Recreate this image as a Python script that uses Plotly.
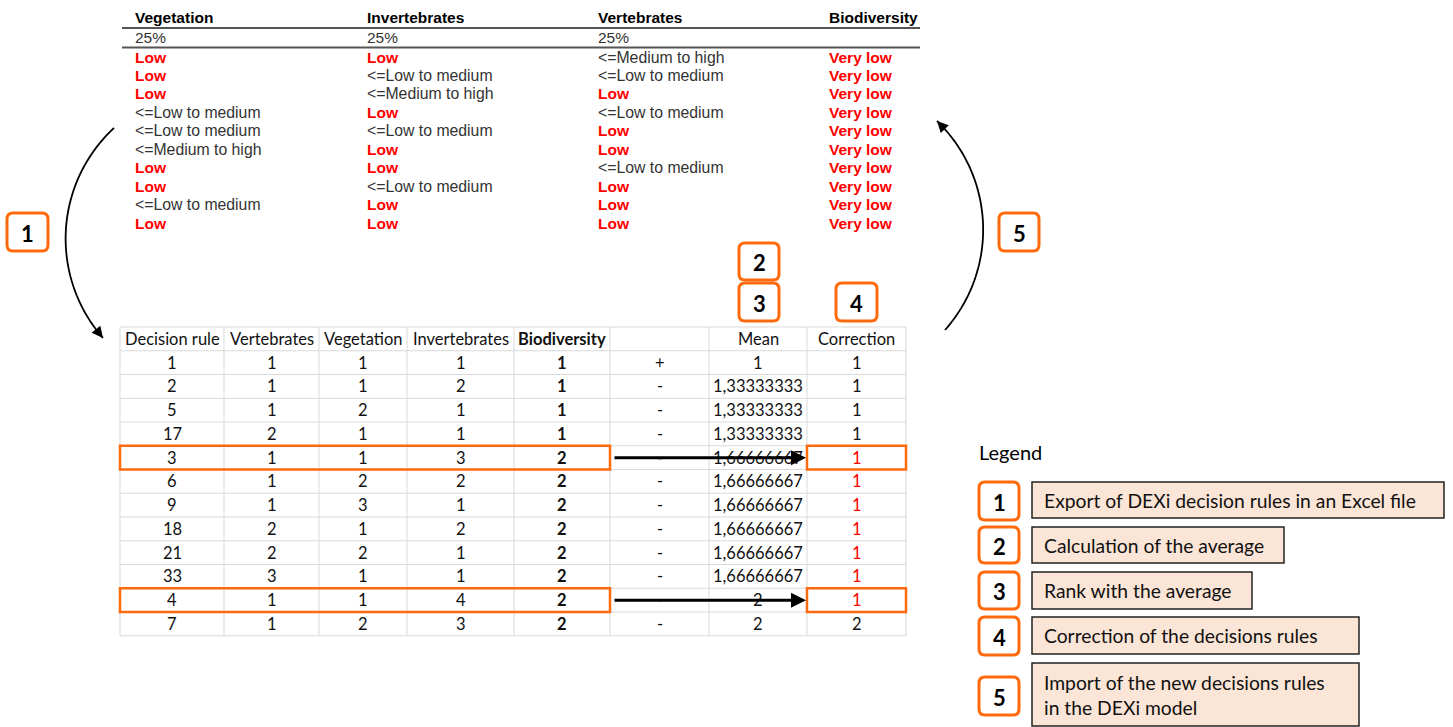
import math
import plotly.graph_objects as go

W, H = 1453, 727

# ---------------- data ----------------
top_headers = ["Vegetation", "Invertebrates", "Vertebrates", "Biodiversity"]
top_weights = ["25%", "25%", "25%", ""]
top_vegetation = ["Low", "Low", "Low", "<=Low to medium", "<=Low to medium",
                  "<=Medium to high", "Low", "Low", "<=Low to medium", "Low"]
top_invertebrates = ["Low", "<=Low to medium", "<=Medium to high", "Low", "<=Low to medium",
                     "Low", "Low", "<=Low to medium", "Low", "Low"]
top_vertebrates = ["<=Medium to high", "<=Low to medium", "Low", "<=Low to medium", "Low",
                   "Low", "<=Low to medium", "Low", "Low", "Low"]
top_biodiversity = ["Very low", "Very low", "Very low", "Very low", "Very low",
                    "Very low", "Very low", "Very low", "Very low", "Very low"]
top_red_values = ["Low", "Very low"]

bottom_headers = ["Decision rule", "Vertebrates", "Vegetation", "Invertebrates",
                  "Biodiversity", "", "Mean", "Correction"]
decision_rule = [1, 2, 5, 17, 3, 6, 9, 18, 21, 33, 4, 7]
vertebrates = [1, 1, 1, 2, 1, 1, 1, 2, 2, 3, 1, 1]
vegetation = [1, 1, 2, 1, 1, 2, 3, 1, 2, 1, 1, 2]
invertebrates = [1, 2, 1, 1, 3, 2, 1, 2, 1, 1, 4, 3]
biodiversity = [1, 1, 1, 1, 2, 2, 2, 2, 2, 2, 2, 2]
sign = ["+", "-", "-", "-", "-", "-", "-", "-", "-", "-", "-", "-"]
mean = ["1", "1,33333333", "1,33333333", "1,33333333", "1,66666667", "1,66666667",
        "1,66666667", "1,66666667", "1,66666667", "1,66666667", "2", "2"]
correction = [1, 1, 1, 1, 1, 1, 1, 1, 1, 1, 1, 2]
corrected = [False, False, False, False, True, True, True, True, True, True, True, False]
highlighted_rows = [4, 10]

steps = ["1", "2", "3", "4", "5"]
step_labels = ["Export of DEXi decision rules in an Excel file",
               "Calculation of the average",
               "Rank with the average",
               "Correction of the decisions rules",
               "Import of the new decisions rules<br>in the DEXi model"]
legend_title = "Legend"

# ---------------- style / layout ----------------
ORANGE = "#FF6A0D"
RED = "#FF0000"
GRID = "#D9D9D9"
F_TOP = "Liberation Sans, Arial, sans-serif"
F_XL = "Lato, 'Open Sans', sans-serif"

shapes = []
ann = []


def text(x, y, s, size, color="#000", bold=False, family=F_XL, xanchor="left"):
    ann.append(dict(x=x, y=y, xref="x", yref="y", text=(f"<b>{s}</b>" if bold else s),
                    showarrow=False, xanchor=xanchor, yanchor="middle", align="left",
                    font=dict(size=size, color=color, family=family)))


def line(x0, y0, x1, y1, color, width):
    shapes.append(dict(type="line", x0=x0, y0=y0, x1=x1, y1=y1, xref="x", yref="y",
                       line=dict(color=color, width=width)))


def rect(x0, y0, x1, y1, color, width, fill="rgba(0,0,0,0)"):
    shapes.append(dict(type="rect", x0=x0, y0=y0, x1=x1, y1=y1, xref="x", yref="y",
                       line=dict(color=color, width=width), fillcolor=fill))


def rrect(x0, y0, x1, y1, r, color, width, fill="white"):
    p = (f"M{x0+r},{y0} L{x1-r},{y0} Q{x1},{y0} {x1},{y0+r} L{x1},{y1-r} "
         f"Q{x1},{y1} {x1-r},{y1} L{x0+r},{y1} Q{x0},{y1} {x0},{y1-r} "
         f"L{x0},{y0+r} Q{x0},{y0} {x0+r},{y0} Z")
    shapes.append(dict(type="path", path=p, xref="x", yref="y",
                       line=dict(color=color, width=width), fillcolor=fill))


def arrow(x_head, y_head, x_tail, y_tail, width, size=1.0, head=2):
    ann.append(dict(x=x_head, y=y_head, ax=x_tail, ay=y_tail, xref="x", yref="y",
                    axref="x", ayref="y", text="", showarrow=True, arrowhead=head,
                    arrowsize=size, arrowwidth=width, arrowcolor="#000", standoff=0))


def step_box(x0, y0, x1, y1, label):
    rrect(x0, y0, x1, y1, 6, ORANGE, 3)
    text((x0 + x1) / 2, (y0 + y1) / 2 + 1, label, 22, "#000", True, F_XL, "center")


def arc(p0, pm, p1, n=60):
    # circle through three points
    (ax_, ay_), (bx, by), (cx, cy) = p0, pm, p1
    d = 2 * (ax_ * (by - cy) + bx * (cy - ay_) + cx * (ay_ - by))
    ux = ((ax_**2 + ay_**2) * (by - cy) + (bx**2 + by**2) * (cy - ay_) + (cx**2 + cy**2) * (ay_ - by)) / d
    uy = ((ax_**2 + ay_**2) * (cx - bx) + (bx**2 + by**2) * (ax_ - cx) + (cx**2 + cy**2) * (bx - ax_)) / d
    r = math.hypot(ax_ - ux, ay_ - uy)
    a0 = math.atan2(ay_ - uy, ax_ - ux)
    am = math.atan2(by - uy, bx - ux)
    a1 = math.atan2(cy - uy, cx - ux)

    def norm(a):
        return a % (2 * math.pi)
    span = norm(a1 - a0)
    if norm(am - a0) > span:
        span = span - 2 * math.pi
    pts = [(ux + r * math.cos(a0 + span * i / n), uy + r * math.sin(a0 + span * i / n))
           for i in range(n + 1)]
    path = "M" + " L".join(f"{x:.2f},{y:.2f}" for x, y in pts)
    shapes.append(dict(type="path", path=path, xref="x", yref="y",
                       line=dict(color="#000", width=1.8)))
    tx, ty = pts[-4]
    arrow(pts[-1][0], pts[-1][1], tx, ty, 1.6, 1.4, 2)


# ---------------- top table ----------------
top_cols_x = [133, 365, 596, 827]
top_cols = [top_vegetation, top_invertebrates, top_vertebrates, top_biodiversity]
line(122, 28, 920, 28, "#555", 2)
line(122, 47.5, 920, 47.5, "#555", 2)
for cx, h, w in zip(top_cols_x, top_headers, top_weights):
    text(cx, 17, h, 15.5, "#000", True, F_TOP)
    if w:
        text(cx, 37.5, w, 15.5, "#333", False, F_TOP)
row_y0, row_dy = 57, 18.45
for cx, col in zip(top_cols_x, top_cols):
    for i, v in enumerate(col):
        if v in top_red_values:
            text(cx, row_y0 + i * row_dy, v, 15.5, RED, True, F_TOP)
        else:
            text(cx, row_y0 + i * row_dy, v, 15.8, "#333", False, F_TOP)

# ---------------- bottom table ----------------
col_edges = [120, 224, 319, 407, 514, 610, 709, 807, 906]
tbl_top, row_h = 327, 23.75
n_rows = len(decision_rule) + 1
for k in range(n_rows + 1):
    line(col_edges[0], tbl_top + k * row_h, col_edges[-1], tbl_top + k * row_h, GRID, 1)
for xe in col_edges:
    line(xe, tbl_top, xe, tbl_top + n_rows * row_h, GRID, 1)

centers = [(col_edges[i] + col_edges[i + 1]) / 2 for i in range(len(col_edges) - 1)]
TS = 16.5
for j, h in enumerate(bottom_headers):
    if h:
        text(centers[j], tbl_top + row_h / 2, h, TS, "#111", h == "Biodiversity", F_XL, "center")
columns = [decision_rule, vertebrates, vegetation, invertebrates, biodiversity, sign, mean, correction]
for i in range(len(decision_rule)):
    yc = tbl_top + row_h * (i + 1) + row_h / 2
    for j, col in enumerate(columns):
        color = "#111"
        bold = j == 4
        if j == 7 and corrected[i]:
            color = RED
        text(centers[j], yc, str(col[i]), TS, color, bold, F_XL, "center")

for i in highlighted_rows:
    y0 = tbl_top + row_h * (i + 1)
    y1 = y0 + row_h
    rect(col_edges[0], y0, col_edges[5], y1, ORANGE, 2.5)
    rect(col_edges[7], y0, col_edges[8], y1, ORANGE, 2.5)
    arrow(col_edges[7] - 1, (y0 + y1) / 2, col_edges[5] + 3, (y0 + y1) / 2, 3, 1.0, 2)

# ---------------- step boxes in the diagram ----------------
step_box(7, 213, 48, 251, steps[0])
step_box(739, 243, 779, 280, steps[1])
step_box(739, 283, 779, 321, steps[2])
step_box(836, 283, 877, 321, steps[3])
step_box(999, 213, 1039, 251, steps[4])

# ---------------- curved arrows ----------------
arc((114, 128), (66, 228), (103, 338))
arc((945, 330), (983, 223), (937, 121))

# ---------------- legend ----------------
text(977, 452, legend_title, 20, "#000", False, F_XL)
num_y = [(482, 520), (527, 563), (572, 609), (617, 655), (677, 715)]
box_y = [(482, 518), (527, 563), (572, 609), (617, 654), (663, 726)]
box_x1 = [1444, 1284, 1252, 1359, 1359]
for k in range(len(steps)):
    step_box(979, num_y[k][0], 1019, num_y[k][1], steps[k])
    rect(1032, box_y[k][0], box_x1[k], box_y[k][1], "#222", 1.5, "#FBE5D6")
    text(1042, (box_y[k][0] + box_y[k][1]) / 2, step_labels[k], 19.3, "#111", False, F_XL)

fig = go.Figure()
fig.update_layout(
    width=W, height=H, margin=dict(l=0, r=0, t=0, b=0),
    paper_bgcolor="white", plot_bgcolor="white",
    xaxis=dict(range=[0, W], visible=False, fixedrange=True),
    yaxis=dict(range=[H, 0], visible=False, fixedrange=True),
    shapes=shapes, annotations=ann, showlegend=False,
)
fig.write_html("out.html", config={"displayModeBar": False},
               post_script="document.body.style.margin='0';")
